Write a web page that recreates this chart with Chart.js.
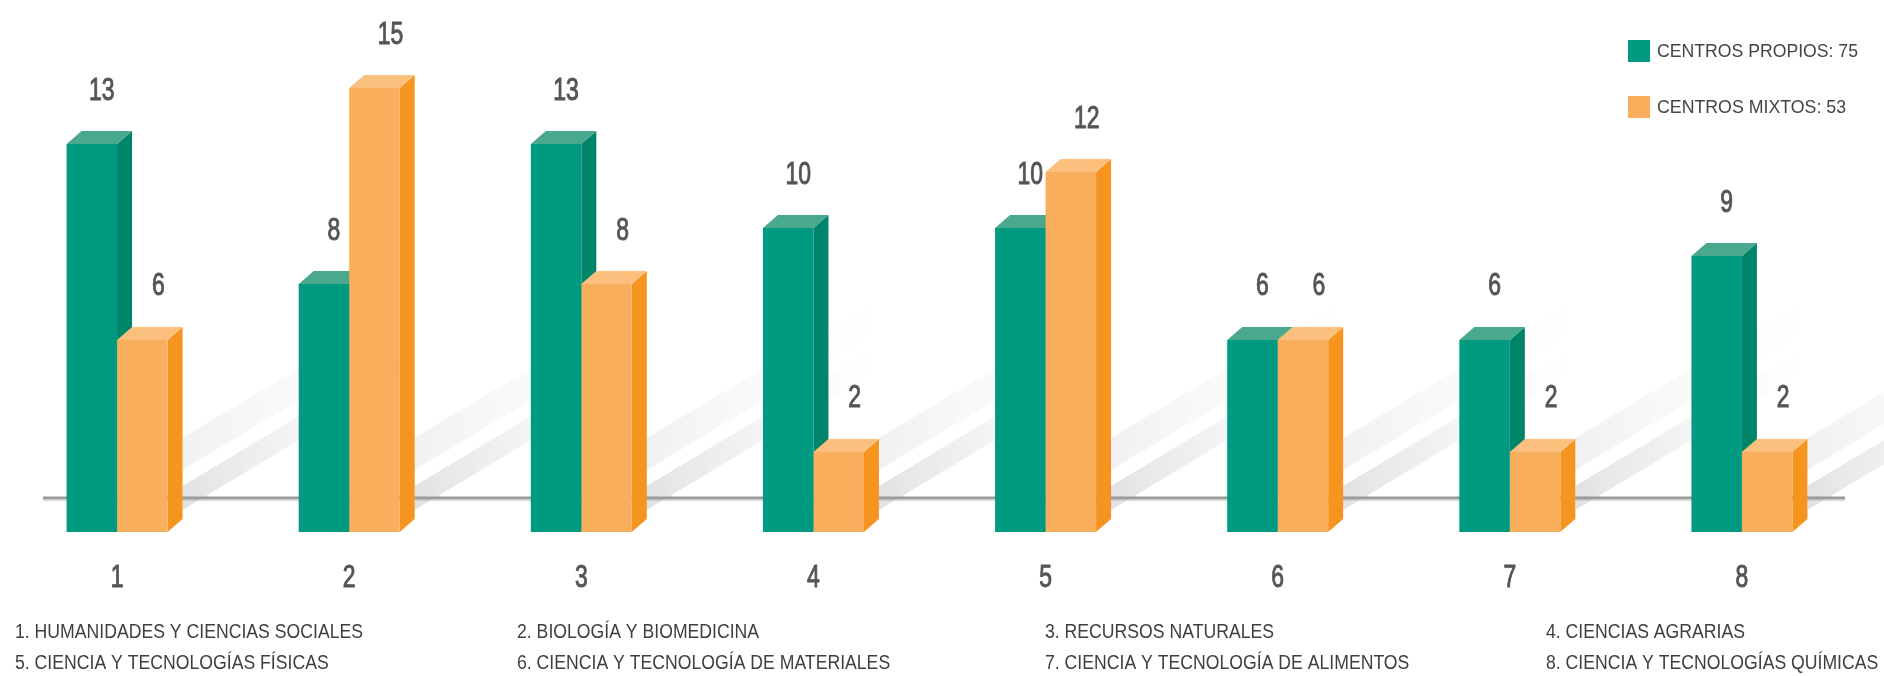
<!DOCTYPE html>
<html>
<head>
<meta charset="utf-8">
<title>Centros por área científica</title>
<script src="https://cdn.jsdelivr.net/npm/chart.js@4.4.1/dist/chart.umd.min.js"></script>
<style>
  html, body { margin: 0; padding: 0; background: #fff; }
  #wrap { position: relative; width: 1884px; height: 676px; }
</style>
</head>
<body>
<div id="wrap"><canvas id="grafico"></canvas></div>
<script>
// áreas (etiqueta bajo cada grupo) y su nombre completo
const areas = ['1', '2', '3', '4', '5', '6', '7', '8'];
const nombresAreas = [
  '1. HUMANIDADES Y CIENCIAS SOCIALES',
  '2. BIOLOGÍA Y BIOMEDICINA',
  '3. RECURSOS NATURALES',
  '4. CIENCIAS AGRARIAS',
  '5. CIENCIA Y TECNOLOGÍAS FÍSICAS',
  '6. CIENCIA Y TECNOLOGÍA DE MATERIALES',
  '7. CIENCIA Y TECNOLOGÍA DE ALIMENTOS',
  '8. CIENCIA Y TECNOLOGÍAS QUÍMICAS'
];

// número de centros por área
const centrosPropios = [13, 8, 13, 10, 10, 6, 6, 9];
const centrosMixtos = [6, 15, 8, 2, 12, 6, 2, 2];

const total = arr => arr.reduce((a, b) => a + b, 0);

// colores de cada serie: cara frontal, lateral y superior
const verde = { frente: '#009a80', lado: '#00856a', arriba: '#4aa88f' };
const naranja = { frente: '#f9ae5c', lado: '#f5951f', arriba: '#fbc07e' };

// las barras arrancan algo por debajo de la línea del suelo
const yMin = -0.86;
const yMax = 17;

// profundidad del efecto 3D
const prof = { dx: 15, dy: 13 };

const fuenteNum = '31px "Liberation Sans", Arial, sans-serif';
const fuenteTexto = '20px "Liberation Sans", Arial, sans-serif';

// cifras estrechas y algo gruesas, como en una fuente condensada
function textoEstrecho(ctx, txt, x, y) {
    ctx.save();
    ctx.translate(x, y);
    ctx.scale(0.74, 1);
    ctx.fillText(txt, 0, 0);
    ctx.strokeText(txt, 0, 0);
    ctx.restore();
}

function caras3D(ctx, el, col) {
    const left = el.x - el.width / 2;
    const right = el.x + el.width / 2;
    const top = el.y;
    const bottom = el.base;

    // lateral
    ctx.fillStyle = col.lado;
    ctx.beginPath();
    ctx.moveTo(right, top);
    ctx.lineTo(right + prof.dx, top - prof.dy);
    ctx.lineTo(right + prof.dx, bottom - prof.dy);
    ctx.lineTo(right, bottom);
    ctx.closePath();
    ctx.fill();

    // tapa
    ctx.fillStyle = col.arriba;
    ctx.beginPath();
    ctx.moveTo(left, top);
    ctx.lineTo(left + prof.dx, top - prof.dy);
    ctx.lineTo(right + prof.dx, top - prof.dy);
    ctx.lineTo(right, top);
    ctx.closePath();
    ctx.fill();
}

// sombras diagonales, línea del suelo y caras 3D (antes de las caras frontales)
const barras3D = {
    id: 'barras3D',
    beforeDatasetsDraw(chart) {
        const ctx = chart.ctx;
        const area = chart.chartArea;
        const sueloY = area.bottom - 34;

        ctx.save();
        const metaN = chart.getDatasetMeta(1);
        metaN.data.forEach(el => {
            const x0 = el.x + el.width / 2 + prof.dx;
            const y0 = sueloY + 12;
            const largo = 230;
            const pend = 0.6;
            const bandas = [
                { off: 0, grosor: 24, alfa: 0.42 },
                { off: 40, grosor: 32, alfa: 0.2 }
            ];
            bandas.forEach(b => {
                const g = ctx.createLinearGradient(x0, 0, x0 + largo, 0);
                g.addColorStop(0, 'rgba(185,185,192,' + b.alfa + ')');
                g.addColorStop(1, 'rgba(225,225,230,0)');
                ctx.fillStyle = g;
                ctx.beginPath();
                ctx.moveTo(x0, y0 - b.off);
                ctx.lineTo(x0 + largo, y0 - b.off - largo * pend);
                ctx.lineTo(x0 + largo, y0 - b.off - largo * pend - b.grosor);
                ctx.lineTo(x0, y0 - b.off - b.grosor);
                ctx.closePath();
                ctx.fill();
            });
        });

        // línea del suelo
        ctx.strokeStyle = '#9a9a9a';
        ctx.lineWidth = 3;
        ctx.beginPath();
        ctx.moveTo(43, sueloY);
        ctx.lineTo(1845, sueloY);
        ctx.stroke();
        ctx.strokeStyle = 'rgba(180,180,180,0.5)';
        ctx.lineWidth = 1;
        ctx.beginPath();
        ctx.moveTo(43, sueloY + 2.5);
        ctx.lineTo(1845, sueloY + 2.5);
        ctx.stroke();

        const colores = [verde, naranja];
        [0, 1].forEach(d => {
            chart.getDatasetMeta(d).data.forEach(el => caras3D(ctx, el, colores[d]));
        });
        ctx.restore();
    },
    afterDatasetsDraw(chart) {
        const ctx = chart.ctx;
        const area = chart.chartArea;
        const x = chart.scales.x;
        ctx.save();
        ctx.font = fuenteNum;
        ctx.fillStyle = '#555';
        ctx.strokeStyle = '#555';
        ctx.lineWidth = 1;
        ctx.textAlign = 'center';
        ctx.textBaseline = 'middle';

        // valor sobre cada barra
        const desplaz = [10, 16];
        [0, 1].forEach(d => {
            const meta = chart.getDatasetMeta(d);
            const datos = chart.data.datasets[d].data;
            meta.data.forEach((el, i) => {
                textoEstrecho(ctx, String(datos[i]), el.x + desplaz[d], el.y - 53);
            });
        });

        // número de área bajo cada grupo
        areas.forEach((a, i) => {
            textoEstrecho(ctx, a, x.getPixelForValue(i), area.bottom + 46);
        });
        ctx.restore();
    },
    afterDraw(chart) {
        const ctx = chart.ctx;
        ctx.save();

        // leyenda de series, arriba a la derecha
        const series = [
            { texto: 'CENTROS PROPIOS: ' + total(centrosPropios), col: verde.frente, y: 40, ancho: 201 },
            { texto: 'CENTROS MIXTOS: ' + total(centrosMixtos), col: naranja.frente, y: 96, ancho: 189 }
        ];
        ctx.font = '18.5px "Liberation Sans", Arial, sans-serif';
        ctx.textBaseline = 'middle';
        ctx.textAlign = 'left';
        series.forEach(s => {
            ctx.fillStyle = s.col;
            ctx.fillRect(1628, s.y, 22, 22);
            ctx.fillStyle = '#444';
            ctx.fillText(s.texto, 1657, s.y + 11.5, s.ancho);
        });

        // nombres de las áreas, en dos filas de cuatro
        const columnas = [15, 517, 1045, 1546];
        const filas = [632, 663];
        ctx.font = fuenteTexto;
        ctx.fillStyle = '#3f3f3f';
        const escala = 348 / ctx.measureText(nombresAreas[0]).width;
        nombresAreas.forEach((n, i) => {
            const fila = Math.floor(i / 4);
            const col = i % 4;
            ctx.save();
            ctx.translate(columnas[col], filas[fila]);
            ctx.scale(escala, 1);
            ctx.fillText(n, 0, 0);
            ctx.restore();
        });
        ctx.restore();
    }
};

const ctx = document.getElementById('grafico').getContext('2d');
new Chart(ctx, {
    type: 'bar',
    data: {
        labels: areas,
        datasets: [
            {
                label: 'CENTROS PROPIOS',
                data: centrosPropios,
                backgroundColor: verde.frente,
                base: yMin,
                borderWidth: 0,
                categoryPercentage: 0.435,
                barPercentage: 1.0
            },
            {
                label: 'CENTROS MIXTOS',
                data: centrosMixtos,
                backgroundColor: naranja.frente,
                base: yMin,
                borderWidth: 0,
                categoryPercentage: 0.435,
                barPercentage: 1.0
            }
        ]
    },
    options: {
        responsive: true,
        maintainAspectRatio: false,
        animation: false,
        devicePixelRatio: 1,
        layout: {
            padding: { top: 32, bottom: 144, left: 1, right: 26 }
        },
        plugins: {
            legend: { display: false },
            tooltip: { enabled: false }
        },
        scales: {
            x: { display: false },
            y: { display: false, min: yMin, max: yMax }
        }
    },
    plugins: [barras3D]
});
</script>
</body>
</html>
